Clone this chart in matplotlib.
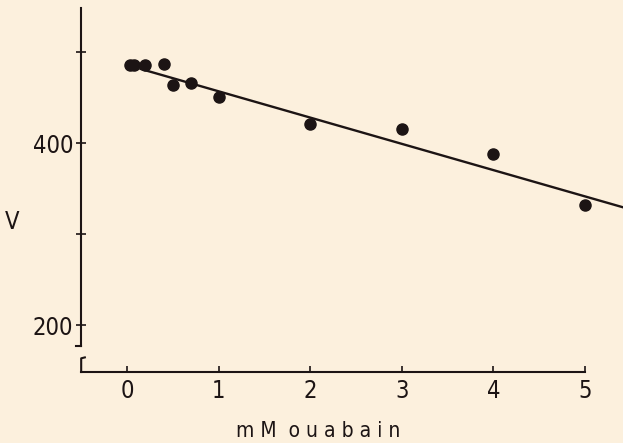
import numpy as np
import matplotlib.pyplot as plt

# ouabain concentration (mM) and measured V
conc = [0.03, 0.08, 0.2, 0.4, 0.5, 0.7, 1.0, 2.0, 3.0, 4.0, 5.0]
v_obs = [486, 486, 485, 487, 464, 466, 450, 421, 415, 388, 332]

# straight-line fit drawn through the points
fit_intercept = 485.5
fit_slope = -28.8
fit_x = [0.15, 5.6]

bg = "#fcf0dd"
ink = "#1c1414"

plt.rcParams['font.family'] = ['DejaVu Sans']
plt.rcParams['font.stretch'] = 'condensed'

fig = plt.figure(figsize=(6.23, 4.43), dpi=100, facecolor=bg)
ax = fig.add_axes([81/623, 71/443, 542/623, 364/443], facecolor=bg)

ax.set_xlim(-0.502, 5.415)
ax.set_ylim(149, 548)

xf = np.array(fit_x)
ax.plot(xf, fit_intercept + fit_slope * xf, color=ink, lw=1.7)
ax.plot(conc, v_obs, 'o', color=ink, ms=8, mec=ink)

for s in ("top", "right"):
    ax.spines[s].set_visible(False)
for s in ("left", "bottom"):
    ax.spines[s].set_color(ink)
    ax.spines[s].set_linewidth(1.5)
ax.spines["left"].set_bounds(178, 548)
ax.spines["bottom"].set_bounds(-0.5, 5.0)

ax.set_xticks([0, 1, 2, 3, 4, 5])
ax.set_yticks([200, 300, 400, 500])
ax.set_yticklabels(["200", "", "400", ""])
ax.tick_params(axis="x", direction="in", length=4, width=1.2, color=ink,
               labelsize=17, labelcolor=ink, pad=5)
ax.tick_params(axis="y", direction="inout", length=7, width=1.2, color=ink,
               labelsize=17, labelcolor=ink, pad=2)

# axis break marks at the lower left corner
ax.plot([-0.5, -0.56], [178, 178], color=ink, lw=1.5, clip_on=False)
ax.plot([-0.5, -0.5, -0.46], [149, 164, 165], color=ink, lw=1.5, clip_on=False)

ax.text(-1.25, 313, "V", fontsize=17, color=ink, ha="center", va="center")
fig.text(318/623, 1 - 431/443, "m M  o u a b a i n", fontsize=15, color=ink,
         ha="center", va="center")

fig.savefig("out.png", dpi=100, facecolor=bg)
